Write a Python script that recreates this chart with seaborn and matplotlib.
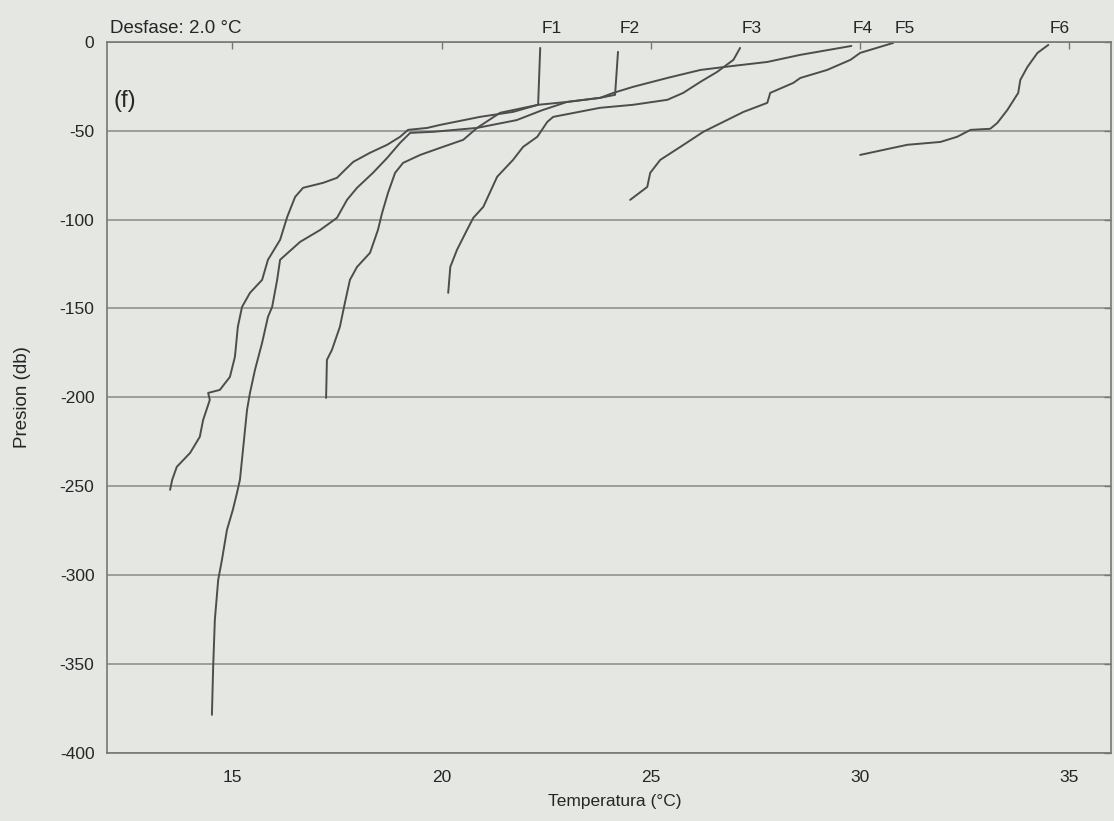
import numpy as np
import pandas as pd
import matplotlib
matplotlib.use("Agg")
import matplotlib.pyplot as plt
import seaborn as sns

# Temperature (°C, shifted 2 °C per profile) and pressure (db) for each station
f1_temp = [22.36, 22.31, 21.71, 20.92, 19.97, 19.66, 19.20, 19.01, 18.70, 18.29, 17.89, 17.74,
           17.50, 17.17, 16.69, 16.50, 16.31, 16.14, 15.85, 15.71, 15.42, 15.23, 15.13, 15.06,
           14.94, 14.70, 14.42, 14.46, 14.30, 14.22, 13.99, 13.67, 13.56, 13.51]
f1_pres = [-3.4, -35.4, -39.4, -42.2, -46.7, -48.4, -49.5, -53.4, -57.9, -62.4, -67.5, -70.9,
           -76.5, -79.3, -82.1, -87.2, -98.5, -111.4, -122.6, -133.9, -141.2, -149.1, -160.3, -177.2,
           -188.5, -195.8, -197.5, -201.4, -212.7, -222.2, -231.2, -239.1, -246.4, -252.0]

f2_temp = [24.22, 24.15, 23.79, 23.00, 22.40, 21.80, 20.85, 19.80, 19.25, 19.01, 18.70, 18.36,
           17.98, 17.74, 17.50, 17.10, 16.62, 16.14, 16.07, 15.95, 15.85, 15.71, 15.54, 15.42,
           15.35, 15.18, 15.11, 15.01, 14.87, 14.75, 14.66, 14.58, 14.54, 14.51]
f2_pres = [-5.6, -29.8, -31.5, -33.8, -38.5, -44.0, -48.4, -50.6, -51.2, -56.8, -65.3, -73.7,
           -82.1, -88.9, -99.0, -105.8, -112.5, -122.6, -133.9, -149.1, -154.7, -169.3, -184.5, -197.5,
           -207.0, -246.4, -253.7, -263.3, -274.5, -291.4, -302.7, -325.2, -351.6, -378.6]

f3_temp = [27.14, 26.98, 26.59, 26.19, 25.78, 25.40, 24.58, 23.79, 22.67, 22.53, 22.29, 21.95,
           21.71, 21.33, 21.00, 20.76, 20.61, 20.37, 20.21, 20.16]
f3_pres = [-3.4, -10.1, -16.9, -22.5, -28.7, -32.6, -35.4, -37.1, -42.2, -45.0, -53.4, -59.1,
           -66.4, -75.9, -92.8, -99.0, -105.8, -117.0, -126.6, -141.2]

f4_temp = [29.80, 28.58, 27.79, 26.98, 26.19, 25.40, 24.58, 24.11, 23.79, 23.00, 22.31, 21.40,
           20.85, 20.52, 19.97, 19.49, 19.08, 18.89, 18.72, 18.58, 18.48, 18.29, 17.98, 17.81,
           17.69, 17.57, 17.38, 17.26, 17.24]
f4_pres = [-2.3, -7.3, -11.3, -13.5, -15.8, -20.3, -25.3, -28.7, -31.5, -33.8, -35.4, -39.9,
           -48.4, -55.1, -59.6, -63.6, -68.1, -73.7, -85.0, -96.2, -105.8, -118.7, -126.6, -133.9,
           -146.8, -160.3, -173.3, -178.9, -200.3]

f5_temp = [30.80, 30.01, 29.78, 29.22, 28.58, 28.41, 27.86, 27.79, 27.22, 26.50, 26.26, 25.71,
           25.23, 24.99, 24.92, 24.51]
f5_pres = [-0.6, -6.2, -10.1, -15.8, -20.3, -23.1, -28.7, -34.3, -39.4, -47.8, -50.6, -59.1,
           -66.4, -73.7, -81.6, -88.9]

f6_temp = [34.51, 34.25, 34.01, 33.84, 33.79, 33.53, 33.29, 33.12, 32.65, 32.33, 31.93, 31.14,
           30.80, 30.01]
f6_pres = [-1.7, -6.2, -14.1, -21.4, -28.7, -38.3, -45.6, -48.9, -49.5, -53.4, -56.3, -57.9,
           -59.6, -63.6]

stations = ["F1", "F2", "F3", "F4", "F5", "F6"]
temps = [f1_temp, f2_temp, f3_temp, f4_temp, f5_temp, f6_temp]
press = [f1_pres, f2_pres, f3_pres, f4_pres, f5_pres, f6_pres]

x_ticks = [15, 20, 25, 30, 35]
y_ticks = [0, -50, -100, -150, -200, -250, -300, -350, -400]

frames = []
for name, t, p in zip(stations, temps, press):
    frames.append(pd.DataFrame({"station": name, "temp": t, "pres": p}))
df = pd.concat(frames, ignore_index=True)

sns.set_theme(style="white")
plt.rcParams["font.family"] = ["Liberation Sans", "DejaVu Sans"]

bg = "#e5e7e3"
ink = "#4d4d4d"
txt = "#262626"
fig = plt.figure(figsize=(11.14, 8.21), dpi=100, facecolor=bg)
ax = fig.add_axes([0.096, 0.083, 0.901, 0.866])
ax.set_facecolor(bg)

for name in stations:
    sub = df[df["station"] == name]
    sns.lineplot(data=sub, x="temp", y="pres", sort=False, estimator=None,
                 color=ink, linewidth=1.4, ax=ax, legend=False)

ax.set_xlim(12, 36)
ax.set_ylim(-400, 0)
ax.set_xticks(x_ticks)
ax.set_yticks(y_ticks)
ax.set_xticklabels([str(v) for v in x_ticks])
ax.set_yticklabels([str(v) for v in y_ticks])
ax.grid(axis="y", color="#8a8a8a", linewidth=1.1)
ax.grid(axis="x", visible=False)
ax.tick_params(direction="in", length=5, width=1, color="#777777",
               top=True, right=True, labelsize=12.5, labelcolor=txt)
ax.tick_params(axis="x", pad=12)
ax.tick_params(axis="y", pad=9)
for s in ax.spines.values():
    s.set_color("#777777")
    s.set_linewidth(1.2)

ax.set_xlabel("Temperatura (°C)", fontsize=12.5, color=txt)
ax.xaxis.set_label_coords(0.506, -0.058)
ax.set_ylabel("Presion (db)", fontsize=13.5, color=txt)
ax.yaxis.set_label_coords(-0.076, 0.5)

# Station labels above the surface value of each profile
for name, t in zip(stations, temps):
    ax.text(t[0] + 0.28, 7.5, name, ha="center", va="center", fontsize=12.5,
            color=txt, clip_on=False)

ax.text(12.08, 7.5, "Desfase: 2.0 °C", ha="left", va="center", fontsize=13.5,
        color=txt, clip_on=False)
ax.text(12.15, -33, "(f)", ha="left", va="center", fontsize=17, color=txt)

fig.savefig("out.png", dpi=100, facecolor=bg)
